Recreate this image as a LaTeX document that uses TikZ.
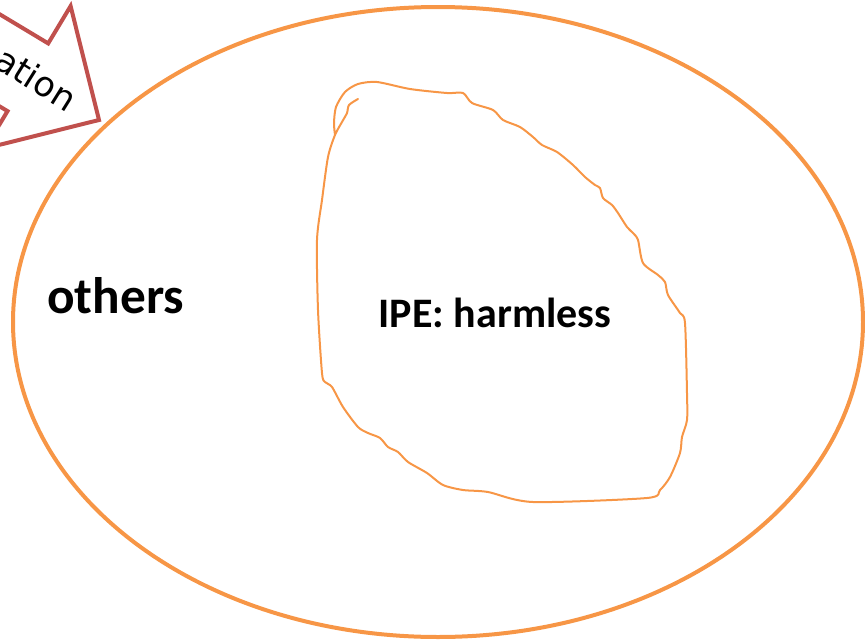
\documentclass[tikz,border=0pt]{standalone}
\usepackage{fontspec}
\setmainfont{Carlito}
\newfontfamily\arrowfont{DejaVu Sans}
\usepackage{tikz}
\definecolor{setorange}{HTML}{F79646}
\definecolor{arrowred}{HTML}{C0504D}
\tikzset{
  outerset/.style={draw=setorange, line width=3pt},
  blobline/.style={draw=setorange, line width=1.5pt, line join=round, line cap=round},
  arrowbox/.style={draw=arrowred, line width=3pt, line join=miter},
  setlabel/.style={inner sep=0pt, font=\bfseries\fontsize{38.5}{41}\selectfont},
  innerlabel/.style={inner sep=0pt, font=\bfseries\fontsize{31.5}{34}\selectfont},
  arrowlabel/.style={inner sep=0pt, font=\arrowfont\fontsize{26}{29}\selectfont}
}

\begin{document}
\begin{tikzpicture}[x=0.75pt, y=-0.75pt]
    \useasboundingbox (0,0) rectangle (865,643);

    % outer set
    \draw[outerset] (438,322) ellipse [x radius=425, y radius=315];
    \node[setlabel, anchor=base west] (others) at (47,313) {others};

    % hand drawn inner set
    \draw[blobline] plot[smooth, tension=0.45] coordinates {
      (358,99) (349,105) (347,113) (342,122) (335,135) (328,157) (322,200)
      (317,240) (318,310) (322,373) (325,382) (332,387) (343,407) (358,427)
      (368,433) (380,438) (388,447) (398,452) (408,462) (427,473) (443,485)
      (463,490) (488,492) (533,502) (647,498) (660,490) (670,477) (680,453)
      (682,437) (687,420) (687,393) (685,323) (680,313) (668,295) (665,282)
      (658,275) (643,263) (638,240) (633,233) (627,227) (618,213) (612,205)
      (603,198) (600,188) (595,185) (585,177) (573,165) (557,152) (542,145)
      (533,137) (520,127) (503,120) (493,110) (472,103) (463,93) (447,93)
      (410,89) (377,82) (358,84) (345,92) (336,107) (334,123) (335,135)};
    \node[innerlabel, anchor=base] (ipe) at (495,327) {IPE: harmless};

    % block arrow, cut by the page edge
    \begin{scope}[shift={(99,120)}, rotate=-31]
      \draw[arrowbox] (-400,39.5) -- (-83,39.5) -- (-83,83) -- (0,0)
        -- (-83,-83) -- (-83,-39.5) -- (-400,-39.5) -- cycle;
    \end{scope}
    \node[arrowlabel, anchor=base east, rotate=-32] (ation) at (67,113) {ation};
\end{tikzpicture}
\end{document}
